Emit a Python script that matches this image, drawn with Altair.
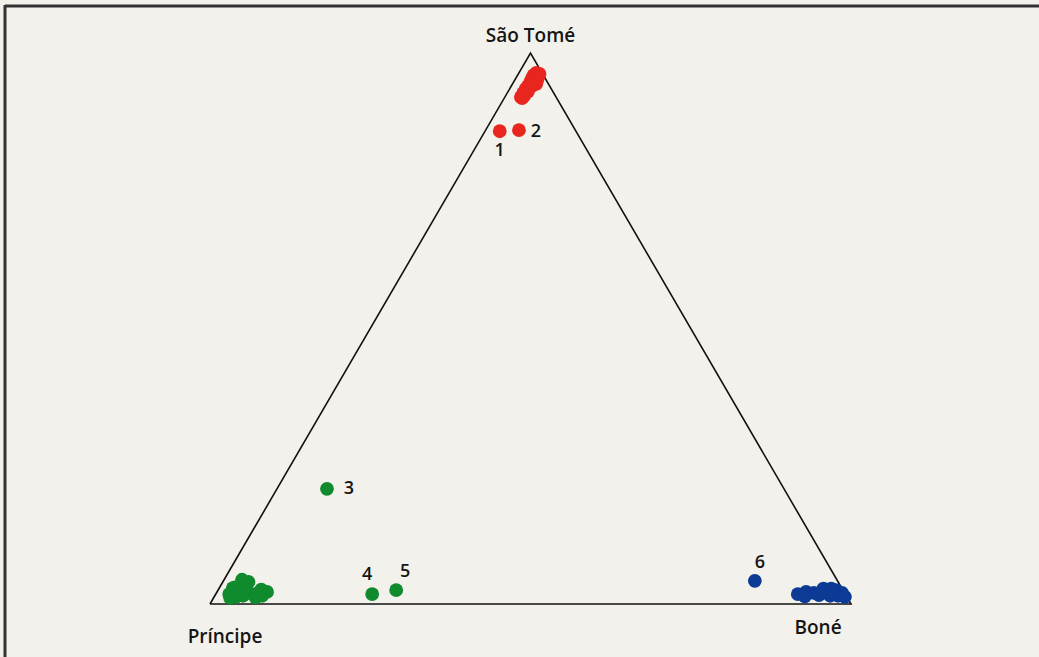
import altair as alt
import pandas as pd

# Ternary compositions (%) : s = São Tomé, p = Príncipe, b = Boné
group = []
s_pct = []
p_pct = []
b_pct = []

def add(g, rows):
    for s, p, b in rows:
        group.append(g)
        s_pct.append(s)
        p_pct.append(p)
        b_pct.append(b)

# São Tomé cluster
add("ST", [
    (92.0, 5.5, 2.5), (92.7, 4.8, 2.5), (93.5, 4.0, 2.5), (94.0, 3.4, 2.6),
    (94.7, 2.7, 2.6), (95.5, 2.0, 2.5), (96.0, 1.5, 2.5), (96.4, 0.9, 2.7),
    (95.1, 1.4, 3.5), (94.4, 1.9, 3.7), (94.0, 2.8, 3.2), (92.2, 4.9, 2.9),
    (93.0, 3.9, 3.1), (95.6, 1.0, 3.4), (91.8, 5.4, 2.8), (96.2, 0.5, 3.3),
    (85.8, 11.9, 2.3), (86.0, 8.8, 5.2),
])
# Príncipe cluster
add("PR", [
    (1.8, 96.1, 2.1), (2.9, 95.0, 2.1), (2.5, 94.4, 3.1), (4.4, 92.8, 2.8),
    (3.1, 93.0, 3.9), (1.3, 95.3, 3.4), (1.1, 96.3, 2.6), (1.5, 94.1, 4.4),
    (2.0, 92.9, 5.1), (2.0, 91.5, 6.5), (2.2, 90.0, 7.8), (1.5, 91.1, 7.4),
    (3.6, 93.3, 3.1), (4.0, 92.0, 4.0), (3.0, 94.6, 2.4), (2.6, 93.3, 4.1),
    (2.6, 90.7, 6.7), (1.2, 92.3, 6.5),
    (20.9, 71.3, 7.8), (1.8, 73.8, 24.4), (2.5, 69.7, 27.8),
])
# Boné cluster
add("BO", [
    (1.8, 7.4, 90.8), (2.2, 5.9, 91.9), (2.0, 4.8, 93.2), (2.0, 3.5, 94.5),
    (2.4, 2.2, 95.4), (2.5, 1.1, 96.4), (2.0, 0.4, 97.6), (1.5, 1.3, 97.2),
    (1.5, 2.5, 96.0), (1.3, 0.3, 98.4), (1.4, 6.5, 92.1), (1.6, 4.2, 94.2),
    (2.8, 1.7, 95.5), (2.8, 2.9, 94.3),
    (4.2, 12.9, 82.9),
])

# Numbered samples
num_label = ["1", "2", "3", "4", "5", "6"]
num_s = [85.8, 86.0, 20.9, 1.8, 2.5, 4.2]
num_p = [11.9, 8.8, 71.3, 73.8, 69.7, 12.9]
num_b = [2.3, 5.2, 7.8, 24.4, 27.8, 82.9]
num_dx = [0, 17, 22, -5, 9, 5]
num_dy = [20, 2, 0, -19, -18, -18]

# Triangle corners
corner_name = ["Príncipe", "Boné", "São Tomé"]
corner_s = [0, 0, 100]
corner_p = [100, 0, 0]
corner_b = [0, 100, 0]
corner_dx = [15, -33, 0]
corner_dy = [39, 30, -11]

W, H = 1039, 657
x_scale = alt.Scale(domain=[-210 / 641, (W - 210) / 641], nice=False, zero=False)
y_scale = alt.Scale(domain=[-53 / 551, 604 / 551], nice=False, zero=False)

def project(ch):
    return ch.transform_calculate(
        X="(datum.b + datum.s / 2) / 100",
        Y="datum.s / 100",
    )

X = alt.X("X:Q", scale=x_scale, axis=None)
Y = alt.Y("Y:Q", scale=y_scale, axis=None)

pts = pd.DataFrame({"group": group, "s": s_pct, "p": p_pct, "b": b_pct})
nums = pd.DataFrame({"label": num_label, "s": num_s, "p": num_p, "b": num_b})
corners = pd.DataFrame({"name": corner_name, "s": corner_s, "p": corner_p,
                        "b": corner_b})
outline = pd.DataFrame({"order": [0, 1, 2, 3],
                        "s": [0, 0, 100, 0], "p": [100, 0, 0, 100],
                        "b": [0, 100, 0, 0]})

frame_top = alt.Chart(pd.DataFrame({"k": [0]})).mark_rule(
    color="#333333", strokeWidth=3
).encode(x=alt.value(5), x2=alt.value(W), y=alt.value(6))
frame_left = alt.Chart(pd.DataFrame({"k": [0]})).mark_rule(
    color="#333333", strokeWidth=3
).encode(x=alt.value(5), y=alt.value(5), y2=alt.value(H))

tri = project(alt.Chart(outline)).mark_line(
    color="#111111", strokeWidth=1.6
).encode(x=X, y=Y, order="order:O")

dots = project(alt.Chart(pts)).mark_circle(size=190, opacity=1).encode(
    x=X, y=Y,
    color=alt.Color("group:N", legend=None,
                    scale=alt.Scale(domain=["ST", "PR", "BO"],
                                    range=["#e8261f", "#0f8a2c", "#0c3a94"])),
)

num_layers = []
for i in range(len(num_label)):
    num_layers.append(
        project(alt.Chart(nums.iloc[[i]])).mark_text(
            font="Open Sans", fontSize=18, fontWeight=600, color="#151515",
            baseline="middle", align="center",
            dx=num_dx[i], dy=num_dy[i],
        ).encode(x=X, y=Y, text="label:N")
    )

corner_layers = []
for i in range(len(corner_name)):
    corner_layers.append(
        project(alt.Chart(corners.iloc[[i]])).mark_text(
            font="Open Sans", fontSize=19, fontWeight=600, color="#151515",
            baseline="alphabetic", align="center",
            dx=corner_dx[i], dy=corner_dy[i],
        ).encode(x=X, y=Y, text="name:N")
    )

chart = alt.layer(
    frame_top, frame_left, tri, dots, *num_layers, *corner_layers
).properties(
    width=W, height=H, background="#f3f1eb",
    autosize=alt.AutoSizeParams(type="none"), padding=0,
).configure_view(stroke=None)

chart.save("out.html", embed_options={"renderer": "svg", "actions": False})
